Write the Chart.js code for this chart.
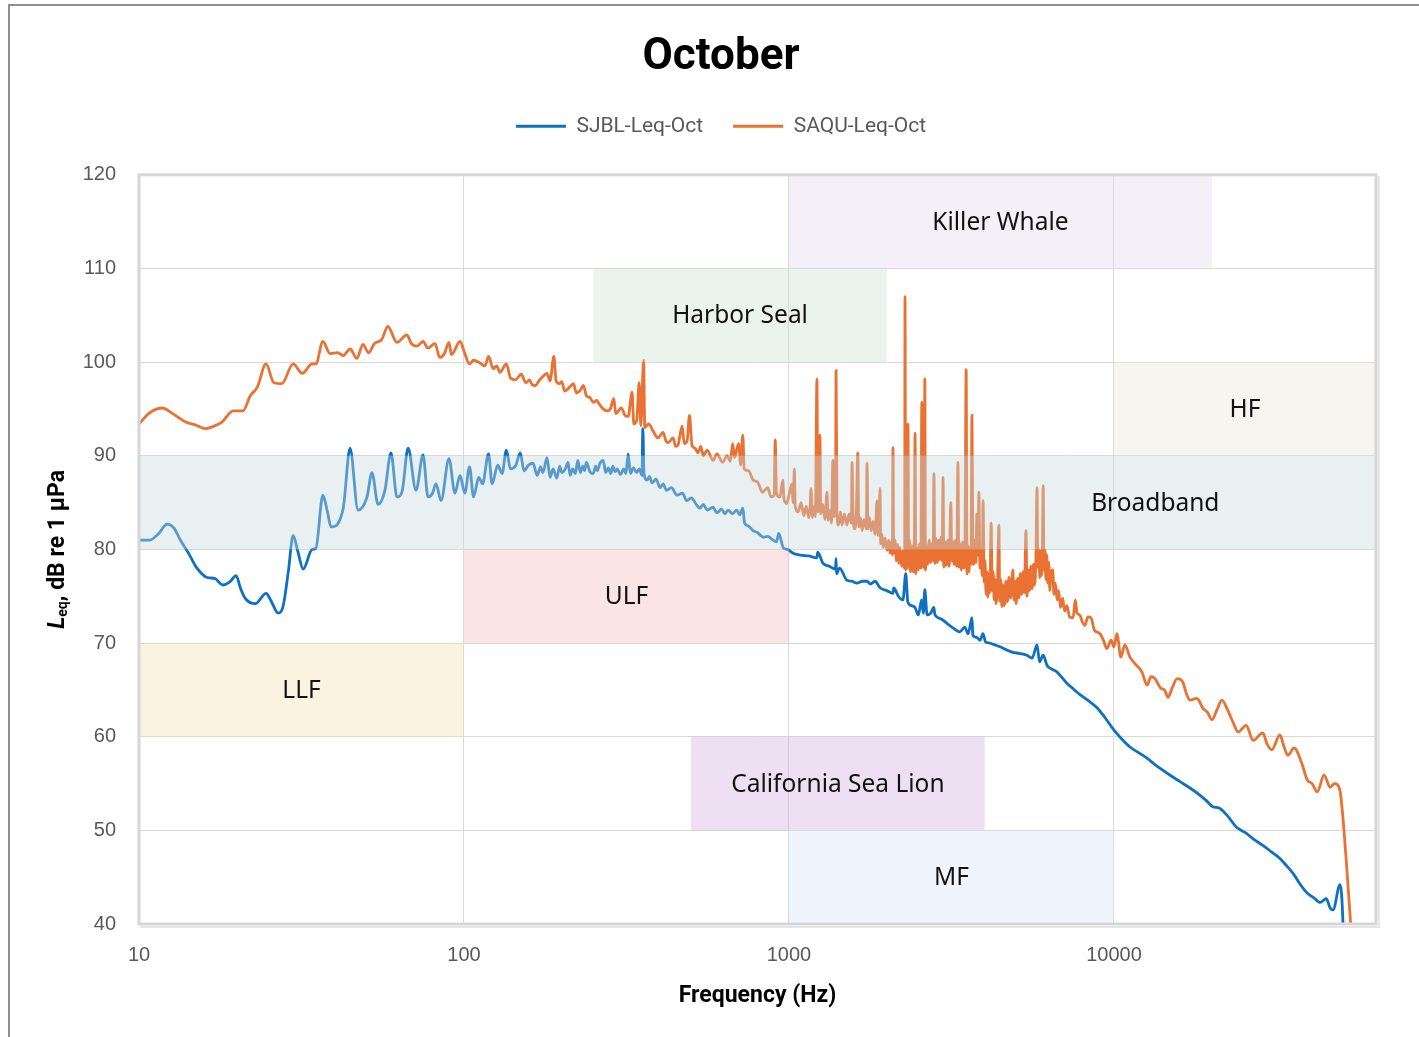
<!DOCTYPE html>
<html>
<head>
<meta charset="utf-8">
<title>October</title>
<script src="https://cdn.jsdelivr.net/npm/chart.js@4.4.1/dist/chart.umd.min.js"></script>
<style>
  html, body { margin: 0; padding: 0; background: #fff; }
  #wrap { position: relative; width: 1419px; height: 1037px; overflow: hidden; }
  #edge { position: absolute; left: 8px; top: 4px; right: -4px; bottom: -4px;
          border-left: 2px solid #8e8e8e; border-top: 2px solid #8e8e8e; pointer-events: none; }
</style>
</head>
<body>
<div id="wrap">
  <canvas id="octChart" width="1419" height="1037"></canvas>
  <div id="edge"></div>
</div>
<script>
// Leq spectra for October, [frequency Hz, dB re 1 uPa]
const sjblSpectrum = [
  [10, 81.0], [10.8, 81.0], [11.5, 81.7], [12.2, 82.7], [12.8, 82.3], [13.4, 81.0], [14.2, 79.6], [15.0, 78.1],
  [16.2, 77.0], [17.1, 76.9], [18.1, 76.2], [19.0, 76.5], [19.9, 77.2], [20.5, 75.9], [21.2, 74.8], [22.8, 74.2],
  [24.6, 75.3], [25.5, 74.5], [26.8, 73.2], [27.7, 73.8], [28.8, 77.6], [29.8, 81.5], [30.8, 79.8], [32.0, 77.9],
  [34.1, 80.0], [35.0, 80.1], [36.8, 85.8], [38.0, 84.0], [39.0, 82.4], [42.5, 84.4], [44.6, 90.8], [47.2, 84.2],
  [50.3, 85.6], [52.1, 88.2], [54.4, 84.8], [57.1, 86.3], [59.6, 90.3], [62.2, 85.6], [64.5, 86.2], [67.3, 90.8],
  [71.2, 86.3], [74.8, 90.1], [77.5, 85.6], [80.0, 86.0], [82.0, 87.0], [85.0, 85.2], [89.9, 89.7], [93.8, 86.0],
  [97.2, 87.9], [100.6, 86.0], [104, 88.8], [107, 85.6], [111, 87.7], [114, 87.0], [119, 90.2], [122, 87.0],
  [127, 89.0], [131, 88.1], [135, 90.6], [139, 88.6], [144, 88.9], [149, 90.3], [153, 88.4], [158, 89.0],
  [163, 89.2], [168, 87.9], [172, 88.8], [175, 88.2], [180, 89.8], [184, 87.7], [188, 88.6], [193, 87.6],
  [197, 88.9], [200, 88.2], [205, 88.6], [209, 89.3], [212, 87.9], [216, 88.6], [220, 88.1], [224, 89.5],
  [228, 88.2], [232, 88.9], [235, 88.4], [238, 89.3], [244, 88.3], [250, 88.1], [254, 88.9], [257, 88.4],
  [262, 89.2], [268, 89.5], [273, 88.2], [278, 88.7], [283, 88.1], [287, 88.9], [292, 88.3], [296, 88.6],
  [303, 88.0], [310, 88.6], [315, 88.1], [320, 90.2], [325, 88.1], [332, 88.7], [340, 88.2], [346, 88.6],
  [353, 87.9], [355, 92.9], [358, 88.1], [366, 87.4], [372, 87.8], [379, 87.1], [390, 87.5], [401, 86.6],
  [410, 87.0], [420, 86.3], [435, 86.6], [452, 85.8], [470, 86.0], [485, 85.2], [500, 85.5], [521, 84.7],
  [532, 84.4], [545, 84.8], [560, 84.2], [584, 84.5], [600, 83.9], [620, 84.3], [635, 83.8], [649, 84.2],
  [670, 83.8], [690, 84.2], [705, 83.7], [721, 84.4], [730, 82.8], [750, 82.5], [775, 82.0], [800, 81.8],
  [835, 81.3], [860, 81.4], [893, 81.0], [915, 80.8], [930, 81.7], [960, 80.2], [990, 80.0], [1029, 79.6],
  [1082, 79.4], [1150, 79.3], [1220, 79.1], [1225, 79.7], [1273, 78.5], [1330, 78.2], [1390, 77.9], [1396, 79.0],
  [1400, 77.4], [1430, 78.0], [1508, 76.7], [1560, 76.6], [1618, 76.4], [1680, 76.6], [1738, 76.6], [1780, 76.3],
  [1840, 76.6], [1905, 75.9], [2000, 75.6], [2089, 75.3], [2100, 75.9], [2170, 75.0], [2242, 74.6], [2287, 77.4],
  [2320, 74.4], [2380, 74.0], [2443, 73.8], [2500, 73.0], [2560, 74.6], [2590, 73.2], [2618, 75.7], [2660, 73.0],
  [2730, 73.2], [2790, 73.8], [2813, 73.0], [2930, 72.6], [3062, 72.1], [3200, 71.6], [3357, 71.2], [3470, 71.7],
  [3560, 71.0], [3656, 72.7], [3680, 70.8], [3780, 70.6], [3873, 70.3], [3950, 71.0], [4030, 70.1], [4150, 70.0],
  [4300, 69.8], [4457, 69.6], [4650, 69.3], [4887, 69.0], [5100, 68.9], [5395, 68.7], [5600, 68.4], [5797, 69.8],
  [5900, 68.0], [6055, 68.7], [6225, 67.6], [6450, 67.2], [6680, 66.9], [7163, 65.7], [7500, 65.1], [7857, 64.5],
  [8300, 63.9], [8869, 63.1], [9400, 62.0], [10000, 60.7], [10600, 59.7], [11200, 58.9], [11900, 58.3], [12640, 57.7],
  [13400, 57.0], [14160, 56.4], [15000, 55.8], [15970, 55.2], [17000, 54.6], [17990, 54.0], [19200, 53.2], [20180, 52.5],
  [21000, 52.4], [22280, 51.6], [23890, 50.3], [25500, 49.7], [27000, 49.0], [28700, 48.4], [30500, 47.7], [32400, 47.0],
  [34000, 46.2], [35550, 45.4], [37300, 44.3], [39300, 43.3], [41200, 42.8], [43100, 42.3], [45000, 42.7], [46250, 41.7],
  [47200, 41.5], [49600, 44.2], [50700, 39.5], [51000, 35]
];

const saquSpectrum = [
  [10, 93.4], [10.8, 94.6], [11.8, 95.1], [12.7, 94.5], [13.9, 93.6], [14.9, 93.3], [16.0, 92.9], [17.1, 93.2],
  [18.0, 93.6], [19.5, 94.8], [20.9, 94.8], [22.0, 96.4], [23.1, 97.3], [24.6, 99.8], [26.0, 97.8], [27.5, 97.7],
  [29.8, 99.8], [31.8, 98.8], [34.1, 99.8], [35.0, 99.8], [36.8, 102.2], [38.7, 100.9], [40.9, 101.0], [42.5, 100.7],
  [44.6, 101.4], [46.8, 100.4], [48.9, 101.9], [50.8, 101.0], [53.1, 102.0], [55.8, 102.4], [58.3, 103.8], [62.2, 102.1],
  [66.7, 102.9], [68.8, 102.0], [71.6, 101.7], [74.8, 102.2], [77.5, 101.5], [81.4, 102.0], [84.2, 100.5], [87.0, 100.9],
  [89.9, 102.1], [91.5, 100.8], [97.2, 102.2], [100.6, 100.9], [104, 99.8], [107, 100.2], [112, 99.9], [116, 99.6],
  [119, 100.6], [123, 99.3], [126, 99.6], [129, 98.9], [135, 99.8], [139, 98.3], [144, 98.1], [150, 98.7],
  [155, 97.8], [159, 98.1], [162, 97.6], [166, 97.5], [170, 98.0], [173, 98.3], [180, 98.8], [184, 98.0],
  [189, 100.6], [192, 98.0], [197, 97.7], [200, 97.9], [204, 96.9], [211, 97.3], [217, 97.7], [222, 96.7],
  [228, 97.0], [233, 97.5], [238, 96.4], [244, 96.2], [250, 95.7], [256, 95.9], [262, 95.4], [268, 95.0],
  [275, 94.8], [282, 95.0], [289, 96.1], [293, 94.5], [299, 94.8], [305, 95.1], [313, 94.3], [320, 94.2],
  [329, 96.8], [333, 93.4], [340, 93.8], [346, 97.8], [350, 93.2], [357, 100.2], [360, 93.0], [370, 93.4],
  [381, 92.7], [388, 92.2], [395, 91.9], [410, 92.5], [418, 91.6], [425, 91.4], [440, 91.9], [448, 91.0],
  [455, 91.1], [469, 93.2], [476, 91.3], [486, 91.6], [494, 94.3], [503, 91.1], [514, 90.8], [524, 90.3],
  [535, 91.0], [545, 90.0], [560, 90.6], [584, 89.5], [600, 90.2], [625, 89.3], [645, 90.0], [660, 89.4],
  [671, 91.3], [680, 89.8], [690, 90.6], [700, 91.3], [710, 89.0], [721, 92.2], [728, 88.6], [750, 88.4],
  [776, 87.4], [800, 87.2], [829, 86.1], [860, 86.6], [880, 85.6], [900, 85.8], [907, 91.7], [915, 86.0],
  [938, 85.6], [957, 87.4], [965, 85.4], [983, 84.9], [1000, 85.8], [1021, 87.0], [1030, 85.0], [1039, 88.6],
  [1045, 84.6], [1067, 84.0], [1090, 85.0], [1110, 83.6], [1130, 84.6], [1150, 83.4], [1160, 84.2], [1169, 86.5],
  [1180, 83.4], [1195, 84.6], [1205, 83.5], [1219, 98.2], [1226, 84.0], [1235, 85.0], [1245, 92.2], [1252, 83.8],
  [1270, 84.8], [1290, 83.2], [1309, 86.1], [1320, 83.1], [1336, 84.2], [1350, 82.8], [1365, 89.5], [1375, 83.5],
  [1390, 84.0], [1396, 99.1], [1405, 83.8], [1420, 82.6], [1440, 84.0], [1455, 82.6], [1480, 83.8], [1508, 82.6],
  [1530, 83.8], [1555, 82.8], [1563, 89.3], [1575, 83.8], [1590, 82.2], [1610, 83.6], [1628, 90.3], [1640, 82.4],
  [1660, 83.4], [1679, 82.0], [1700, 83.2], [1730, 82.2], [1738, 89.2], [1750, 82.2], [1770, 83.4], [1790, 82.0],
  [1815, 83.0], [1840, 81.6], [1866, 85.2], [1880, 81.5], [1895, 82.6], [1905, 86.5], [1915, 80.6], [1935, 81.6],
  [1950, 80.2], [1975, 81.2], [2004, 79.9], [2025, 81.0], [2045, 79.6], [2060, 80.8], [2080, 79.4], [2089, 90.9],
  [2100, 79.6], [2120, 81.0], [2140, 78.8], [2160, 80.5], [2180, 78.5], [2198, 80.2], [2220, 78.2], [2240, 79.8],
  [2260, 78.0], [2270, 80.0], [2275, 107.0], [2285, 77.8], [2300, 80.5], [2315, 78.0], [2323, 93.4], [2335, 78.5],
  [2350, 81.0], [2365, 77.6], [2388, 80.4], [2410, 77.6], [2430, 80.6], [2443, 92.4], [2455, 77.4], [2475, 80.2],
  [2500, 77.8], [2520, 80.6], [2545, 78.0], [2563, 95.7], [2575, 78.2], [2590, 80.8], [2605, 78.0], [2618, 98.2],
  [2630, 77.8], [2650, 80.4], [2670, 78.4], [2700, 81.0], [2725, 78.6], [2750, 80.6], [2775, 78.8], [2793, 88.1],
  [2810, 78.5], [2830, 81.2], [2860, 78.6], [2885, 81.0], [2910, 78.9], [2935, 81.3], [2960, 78.8], [2979, 87.7],
  [2995, 78.1], [3020, 80.8], [3050, 78.3], [3080, 81.0], [3110, 78.2], [3148, 85.0], [3170, 78.8], [3195, 80.8],
  [3220, 78.4], [3250, 81.0], [3280, 78.2], [3311, 89.3], [3330, 78.1], [3360, 80.6], [3390, 77.8], [3420, 80.8],
  [3450, 78.0], [3480, 80.6], [3508, 99.2], [3530, 77.4], [3555, 80.4], [3580, 77.6], [3600, 80.2], [3630, 78.4],
  [3656, 94.3], [3680, 80.0], [3700, 78.4], [3730, 81.0], [3760, 78.6], [3785, 83.8], [3810, 79.4], [3840, 86.1],
  [3870, 78.0], [3900, 80.2], [3930, 77.2], [3955, 85.2], [3985, 76.5], [4010, 78.8], [4040, 75.2], [4064, 77.6],
  [4090, 74.9], [4120, 77.4], [4150, 75.4], [4188, 82.8], [4220, 75.6], [4250, 77.6], [4280, 74.6], [4305, 76.8],
  [4340, 74.2], [4380, 76.6], [4426, 82.6], [4450, 74.5], [4480, 76.8], [4520, 73.9], [4550, 76.2], [4600, 74.0],
  [4650, 76.6], [4700, 74.4], [4750, 77.0], [4800, 74.8], [4850, 76.8], [4887, 77.8], [4920, 74.6], [4960, 76.6],
  [5000, 74.2], [5050, 76.9], [5100, 74.8], [5150, 77.4], [5200, 75.2], [5250, 77.6], [5300, 75.4], [5361, 82.0],
  [5400, 75.0], [5450, 77.8], [5500, 75.6], [5550, 78.2], [5600, 75.8], [5650, 78.4], [5700, 76.2], [5750, 79.0],
  [5797, 86.6], [5830, 78.1], [5870, 80.0], [5910, 77.0], [5950, 79.8], [5990, 77.2], [6020, 80.2], [6055, 86.8],
  [6090, 77.8], [6130, 80.0], [6170, 76.8], [6210, 79.4], [6250, 76.4], [6300, 78.6], [6350, 75.6], [6400, 77.4],
  [6485, 77.8], [6530, 75.2], [6600, 76.4], [6683, 74.6], [6750, 75.6], [6850, 73.8], [6950, 74.8], [7050, 73.4],
  [7163, 74.0], [7300, 72.8], [7484, 72.7], [7600, 74.6], [7700, 73.2], [7850, 73.0], [8000, 72.2], [8147, 71.9],
  [8300, 72.8], [8500, 72.7], [8700, 71.4], [9057, 71.0], [9300, 70.2], [9500, 69.4], [9800, 70.3], [10000, 69.6],
  [10210, 71.0], [10500, 68.5], [10800, 69.8], [11200, 68.5], [11600, 67.8], [12190, 66.9], [12640, 65.5], [13000, 66.4],
  [13370, 66.2], [13900, 65.2], [14300, 65.0], [14660, 64.2], [15100, 65.2], [15630, 66.2], [16300, 65.8], [16700, 64.6],
  [17140, 63.9], [17990, 64.1], [18800, 63.0], [19400, 62.6], [20000, 61.8], [20700, 62.8], [21480, 63.9], [22280, 63.0],
  [23200, 61.6], [24100, 60.5], [25500, 61.2], [26800, 59.6], [28700, 60.4], [29600, 59.2], [30600, 58.6], [32400, 60.2],
  [33300, 59.0], [34300, 58.0], [35800, 58.8], [37800, 57.2], [39300, 55.4], [40700, 55.0], [42200, 54.1], [44300, 55.9],
  [46250, 54.6], [47700, 55.0], [49550, 54.3], [50500, 51.8], [54000, 38]
];

const seriesNames = ['SJBL-Leq-Oct', 'SAQU-Leq-Oct'];
const xTickValues = [10, 100, 1000, 10000];
const yTickValues = [40, 50, 60, 70, 80, 90, 100, 110, 120];

// hearing / frequency bands: name, Hz range, dB range
const bandNames = ['Killer Whale', 'Harbor Seal', 'HF', 'Broadband', 'ULF', 'LLF', 'California Sea Lion', 'MF'];
const bandLowHz = [1000, 250, 10000, 10, 100, 10, 500, 1000];
const bandHighHz = [20000, 2000, 64000, 64000, 1000, 100, 4000, 10000];
const bandLowDb = [110, 100, 90, 80, 70, 60, 50, 40];
const bandHighDb = [120, 110, 100, 90, 80, 70, 60, 50];
const bandLabelHz = [null, null, null, 13400, null, null, null, null];

const bandFill = [
  'rgba(225,218,238,0.4)', 'rgba(202,227,207,0.4)', 'rgba(235,230,218,0.4)', 'rgba(197,217,222,0.4)',
  'rgba(242,188,188,0.4)', 'rgba(242,225,178,0.4)', 'rgba(212,177,222,0.4)', 'rgba(217,227,250,0.4)'
];
const lineColors = ['#0F70C2', '#E97132'];
const gridColor = '#d9d9d9';
const tickColor = '#595959';

const toPoints = s => s.map(p => ({ x: p[0], y: p[1] }));

// translucent band boxes over the spectra, with their labels and the plot frame
const bandsPlugin = {
  id: 'bands',
  afterDatasetsDraw(chart) {
    const { ctx, chartArea: a, scales: { x, y } } = chart;
    ctx.save();
    ctx.beginPath();
    ctx.rect(a.left, a.top, a.right - a.left, a.bottom - a.top);
    ctx.clip();
    bandNames.forEach((name, i) => {
      const x0 = x.getPixelForValue(bandLowHz[i]);
      const x1 = x.getPixelForValue(bandHighHz[i]);
      const y0 = y.getPixelForValue(bandHighDb[i]);
      const y1 = y.getPixelForValue(bandLowDb[i]);
      ctx.fillStyle = bandFill[i];
      ctx.fillRect(x0, y0, x1 - x0, y1 - y0);
    });
    ctx.fillStyle = '#111';
    ctx.font = '24.5px "Noto Sans", Roboto, sans-serif';
    ctx.textAlign = 'center';
    ctx.textBaseline = 'middle';
    bandNames.forEach((name, i) => {
      const at = bandLabelHz[i] || Math.sqrt(bandLowHz[i] * bandHighHz[i]);
      ctx.fillText(name, x.getPixelForValue(at), y.getPixelForValue((bandLowDb[i] + bandHighDb[i]) / 2) + 1);
    });
    ctx.restore();

    ctx.save();
    ctx.strokeStyle = '#e6e6e6';
    ctx.lineWidth = 2;
    ctx.beginPath();
    ctx.moveTo(a.left + 1, a.bottom + 3);
    ctx.lineTo(a.right + 3, a.bottom + 3);
    ctx.lineTo(a.right + 3, a.top + 1);
    ctx.stroke();
    ctx.strokeStyle = '#d6d6d6';
    ctx.lineWidth = 3;
    ctx.strokeRect(a.left, a.top, a.right - a.left, a.bottom - a.top);
    ctx.restore();
  }
};

// rotated y-axis title with the subscript on L
const yTitlePlugin = {
  id: 'yTitle',
  afterDraw(chart) {
    const { ctx, chartArea: a } = chart;
    const parts = [
      { t: 'L', f: 'italic bold 23px Roboto, sans-serif', dy: 0 },
      { t: 'eq', f: 'bold 14px Roboto, sans-serif', dy: 5 },
      { t: ', dB re 1 \u00B5Pa', f: 'bold 23px Roboto, sans-serif', dy: 0 }
    ];
    ctx.save();
    let total = 0;
    parts.forEach(p => { ctx.font = p.f; p.w = ctx.measureText(p.t).width; total += p.w; });
    ctx.translate(58, (a.top + a.bottom) / 2);
    ctx.rotate(-Math.PI / 2);
    ctx.fillStyle = '#000';
    ctx.textBaseline = 'middle';
    ctx.textAlign = 'left';
    let cx = -total / 2;
    parts.forEach(p => { ctx.font = p.f; ctx.fillText(p.t, cx, p.dy); cx += p.w; });
    ctx.restore();
  }
};

// extra space between the legend row and the plot
const legendGapPlugin = {
  id: 'legendGap',
  beforeLayout(chart) {
    const lg = chart.legend;
    if (lg && !lg._gapAdded) {
      const fit = lg.fit;
      lg.fit = function () { fit.call(this); this.height += 28; };
      lg._gapAdded = true;
    }
  }
};

new Chart(document.getElementById('octChart'), {
  type: 'line',
  data: {
    datasets: [
      { label: seriesNames[0], data: toPoints(sjblSpectrum), borderColor: lineColors[0], backgroundColor: lineColors[0] },
      { label: seriesNames[1], data: toPoints(saquSpectrum), borderColor: lineColors[1], backgroundColor: lineColors[1] }
    ]
  },
  options: {
    responsive: false,
    animation: false,
    elements: {
      point: { radius: 0 },
      line: { borderWidth: 2.8, cubicInterpolationMode: 'monotone' }
    },
    layout: { padding: { left: 66, right: 43, top: 0, bottom: 0 } },
    plugins: {
      title: {
        display: true,
        text: 'October',
        color: '#000',
        font: { family: 'Roboto', size: 44, weight: 'bold' },
        padding: { top: 32, bottom: 1 }
      },
      legend: {
        display: true,
        labels: {
          boxWidth: 50,
          boxHeight: 3,
          padding: 30,
          color: tickColor,
          font: { family: 'Roboto', size: 21 },
          generateLabels(chart) {
            const items = Chart.defaults.plugins.legend.labels.generateLabels(chart);
            items.forEach(it => { it.lineWidth = 0; });
            return items;
          }
        }
      },
      tooltip: { enabled: false }
    },
    scales: {
      x: {
        type: 'logarithmic',
        min: 10,
        max: 64000,
        afterBuildTicks(scale) { scale.ticks = xTickValues.map(v => ({ value: v })); },
        afterFit(scale) { scale.height = 113; },
        grid: { color: gridColor, drawTicks: false },
        border: { display: false },
        ticks: {
          autoSkip: false,
          maxRotation: 0,
          padding: 19,
          color: tickColor,
          font: { family: '"Liberation Sans", Arial, sans-serif', size: 20 },
          callback: v => String(v)
        },
        title: {
          display: true,
          text: 'Frequency (Hz)',
          color: '#000',
          font: { family: 'Roboto', size: 23, weight: 'bold' },
          padding: { top: 0, bottom: 27 }
        }
      },
      y: {
        min: yTickValues[0],
        max: yTickValues[yTickValues.length - 1],
        afterBuildTicks(scale) { scale.ticks = yTickValues.map(v => ({ value: v })); },
        afterFit(scale) { scale.width = 73; },
        grid: { color: gridColor, drawTicks: false },
        border: { display: false },
        ticks: {
          padding: 23,
          color: tickColor,
          font: { family: '"Liberation Sans", Arial, sans-serif', size: 20 }
        }
      }
    }
  },
  plugins: [legendGapPlugin, bandsPlugin, yTitlePlugin]
});
</script>
</body>
</html>
